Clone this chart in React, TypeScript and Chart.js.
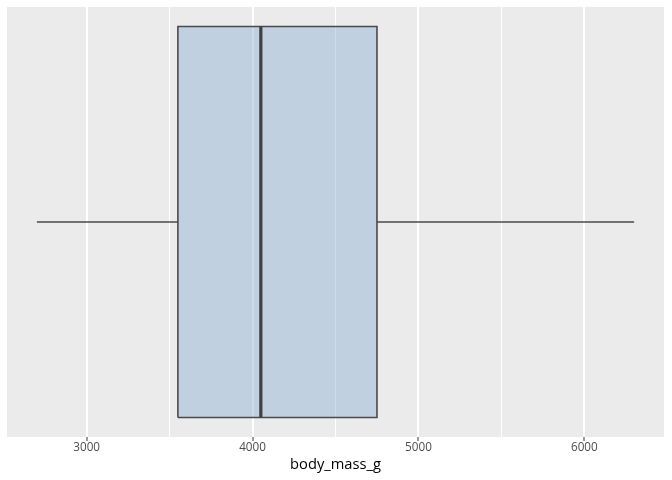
import React, { useEffect, useRef } from "react";
import { Chart, registerables } from "chart.js";

Chart.register(...registerables);

// Boxplot statistics of body_mass_g
const statNames = ["min", "q1", "median", "q3", "max"];
const statValues = [2700, 3550, 4050, 4750, 6300];
const xTickValues = [3000, 3500, 4000, 4500, 5000, 5500, 6000];
const majorTicks = [3000, 4000, 5000, 6000];
const xTitle = "body_mass_g";

const FONT = "'Open Sans', 'DejaVu Sans', sans-serif";

const panelBg = {
  id: "panelBg",
  beforeDraw(chart: any) {
    const { ctx, chartArea } = chart;
    ctx.save();
    ctx.fillStyle = "#EBEBEB";
    ctx.fillRect(chartArea.left, chartArea.top, chartArea.right - chartArea.left, chartArea.bottom - chartArea.top);
    ctx.restore();
  },
};

export default function App() {
  const ref = useRef<HTMLCanvasElement>(null);
  useEffect(() => {
    const [vMin, q1, med, q3, vMax] = statValues;
    const half = 0.375;
    const range = half * 2 * 1.1;
    const lo = statValues[0];
    const hi = statValues[4];
    const pad = (hi - lo) * 0.05;
    const line = "#4A4A4A";
    const common = { showLine: true, pointRadius: 0, pointHoverRadius: 0, fill: false, tension: 0 };
    const chart = new Chart(ref.current!, {
      type: "scatter",
      data: {
        datasets: [
          {
            ...common,
            label: "box fill",
            order: 10,
            data: [
              { x: q1, y: half },
              { x: q3, y: half },
            ],
            borderWidth: 0,
            borderColor: "rgba(0,0,0,0)",
            backgroundColor: "rgba(140,175,212,0.45)",
            fill: { value: -half },
          },
          {
            ...common,
            label: "box",
            order: 5,
            data: [
              { x: q1, y: -half },
              { x: q3, y: -half },
              { x: q3, y: half },
              { x: q1, y: half },
              { x: q1, y: -half },
            ],
            borderColor: line,
            borderWidth: 1.6,
          },
          {
            ...common,
            label: statNames[2],
            order: 1,
            data: [
              { x: med, y: -half },
              { x: med, y: half },
            ],
            borderColor: "#404040",
            borderWidth: 3.2,
          },
          {
            ...common,
            label: "lower whisker",
            order: 5,
            data: [
              { x: vMin, y: 0 },
              { x: q1, y: 0 },
            ],
            borderColor: line,
            borderWidth: 1.6,
          },
          {
            ...common,
            label: "upper whisker",
            order: 5,
            data: [
              { x: q3, y: 0 },
              { x: vMax, y: 0 },
            ],
            borderColor: line,
            borderWidth: 1.6,
          },
        ],
      },
      options: {
        responsive: false,
        animation: false,
        events: [],
        layout: { padding: { left: 7, right: 8, top: 7, bottom: 0 } },
        plugins: { legend: { display: false }, tooltip: { enabled: false } },
        scales: {
          x: {
            type: "linear",
            min: lo - pad,
            max: hi + pad,
            afterBuildTicks: (scale: any) => {
              scale.ticks = xTickValues.map((v) => ({ value: v }));
            },
            afterFit: (scale: any) => {
              scale.height = 43;
            },
            border: { display: false },
            grid: {
              color: "#FFFFFF",
              lineWidth: (c: any) => (majorTicks.includes(c.tick?.value) ? 2 : 1),
              drawTicks: true,
              tickLength: 4,
              tickColor: (c: any) => (majorTicks.includes(c.tick?.value) ? "#333333" : "rgba(0,0,0,0)"),
              tickWidth: 1,
            },
            ticks: {
              autoSkip: false,
              maxRotation: 0,
              padding: 0,
              color: "#4D4D4D",
              font: { family: FONT, size: 11.7 },
              callback: (v: any) => (majorTicks.includes(Number(v)) ? String(v) : ""),
            },
            title: {
              display: true,
              text: xTitle,
              color: "#000000",
              font: { family: FONT, size: 14.7 },
              padding: { top: 6, bottom: 6 },
            },
          },
          y: {
            type: "linear",
            min: -range / 2,
            max: range / 2,
            display: false,
          },
        },
      },
      plugins: [panelBg],
    });
    return () => chart.destroy();
  }, []);
  return (
    <div style={{ position: "absolute", left: 0, top: 0, width: 672, height: 480 }}>
      <canvas ref={ref} width={672} height={480} />
    </div>
  );
}
